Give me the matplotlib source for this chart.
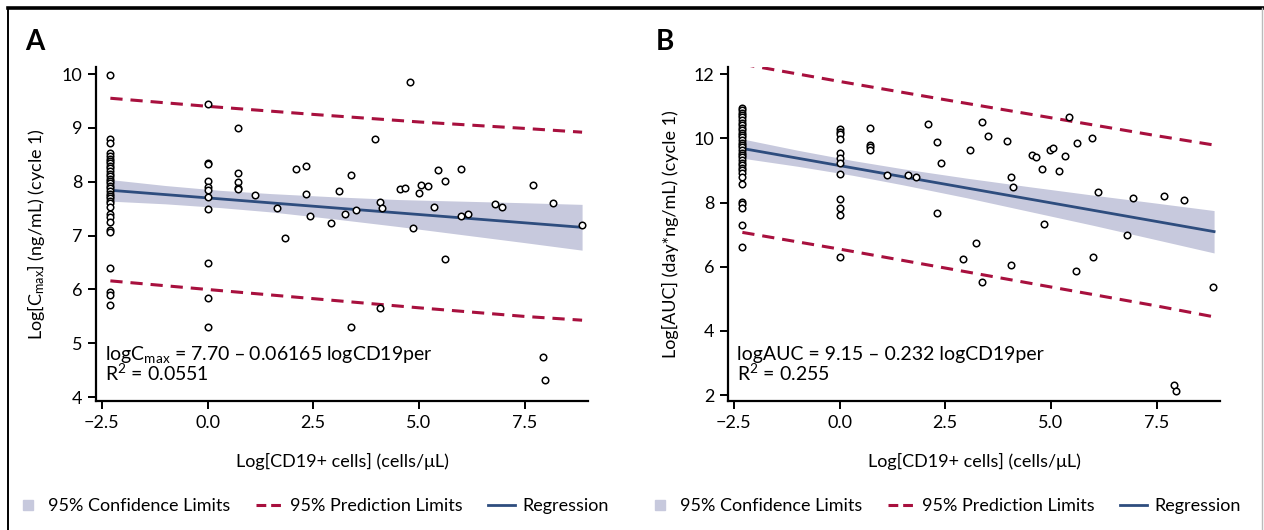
import matplotlib
matplotlib.use('Agg')
import matplotlib.pyplot as plt
from matplotlib.lines import Line2D
import numpy as np

plt.rcParams['font.family'] = ['Lato', 'DejaVu Sans']
plt.rcParams['mathtext.default'] = 'regular'

# ---------------- data ----------------
# Panel A: log Cmax vs log CD19+ cells
cmax_x = ([-2.3] * 34 + [0.0] * 11 + [0.715] * 5 +
          [1.11, 1.64, 1.82, 2.10, 2.32, 2.32, 2.42, 2.91, 3.10, 3.24, 3.39, 3.52,
           3.95, 4.07, 4.12, 4.56, 4.67, 4.80, 4.85, 5.01, 5.05, 5.21, 5.36, 5.45,
           5.62, 5.61, 5.99, 6.00, 6.15, 6.80, 6.97, 7.69, 8.18, 8.86, 4.07, 3.39,
           7.93, 7.99])
cmax_y = ([9.99, 8.80, 8.72, 8.54, 8.48, 8.43, 8.38, 8.34, 8.29, 8.25, 8.20, 8.15,
           8.10, 8.06, 8.01, 7.97, 7.92, 7.88, 7.83, 7.78, 7.74, 7.69, 7.65, 7.60,
           7.53, 7.41, 7.35, 7.25, 7.11, 7.07, 6.39, 5.95, 5.89, 5.72] +
          [9.44, 8.35, 8.33, 8.01, 7.91, 7.84, 7.72, 7.49, 6.50, 5.84, 5.30] +
          [9.00, 8.17, 7.99, 7.89, 7.87] +
          [7.75, 7.52, 6.96, 8.23, 8.29, 7.78, 7.37, 7.24, 7.83, 7.40, 8.12, 7.48,
           8.80, 7.63, 7.51, 7.86, 7.89, 9.85, 7.14, 7.79, 7.94, 7.92, 7.53, 8.22,
           8.02, 6.56, 8.23, 7.36, 7.40, 7.59, 7.53, 7.94, 7.60, 7.19, 5.66, 5.30,
           4.74, 4.32])

# Panel B: log AUC vs log CD19+ cells
auc_x = ([-2.3] * 34 + [0.0] * 12 + [0.715] * 4 +
         [1.11, 1.62, 1.81, 2.08, 2.31, 2.41, 2.31, 3.08, 2.91, 3.22, 3.38, 3.51,
          3.95, 4.06, 4.10, 4.55, 4.65, 4.79, 4.83, 4.98, 5.04, 5.19, 5.34, 5.43,
          5.61, 5.97, 5.99, 6.12, 6.79, 6.95, 7.67, 8.15, 3.37, 4.05, 5.59, 8.83,
          7.91, 7.97])
auc_y = ([10.95, 10.88, 10.80, 10.72, 10.65, 10.57, 10.48, 10.41, 10.33, 10.26,
          10.17, 10.10, 10.03, 9.94, 9.86, 9.79, 9.72, 9.63, 9.55, 9.48, 9.41, 9.32,
          9.24, 9.17, 9.08, 9.01, 8.91, 8.80, 8.59, 8.02, 7.95, 7.82, 7.29, 6.60] +
         [10.28, 10.20, 10.13, 9.97, 9.55, 9.39, 9.22, 8.88, 8.11, 7.83, 7.62, 6.29] +
         [10.32, 9.80, 9.72, 9.63] +
         [8.86, 8.86, 8.80, 10.43, 9.87, 9.23, 7.67, 9.65, 6.24, 6.73, 10.51, 10.07,
          9.92, 8.80, 8.47, 9.47, 9.43, 9.03, 7.33, 9.63, 9.70, 8.97, 9.44, 10.66,
          9.86, 10.00, 6.29, 8.32, 7.00, 8.15, 8.20, 8.07, 5.53, 6.04, 5.87, 5.37,
          2.32, 2.12])

# Regression fits (from the annotations)
reg_a = (7.70, -0.06165)
reg_b = (9.15, -0.232)
fit_x_range = [-2.3, 8.86]

# 95% confidence limits (read at knots)
ci_x = [-2.3, -1.0, 0.3, 1.5, 3.0, 4.5, 6.0, 7.5, 8.86]
ci_a_up = [8.04, 7.93, 7.84, 7.78, 7.72, 7.67, 7.64, 7.61, 7.58]
ci_a_lo = [7.64, 7.59, 7.52, 7.44, 7.31, 7.17, 7.02, 6.87, 6.73]
ci_b_up = [9.98, 9.63, 9.31, 9.05, 8.76, 8.49, 8.23, 7.98, 7.75]
ci_b_lo = [9.38, 9.13, 8.85, 8.55, 8.15, 7.72, 7.29, 6.84, 6.43]

# 95% prediction limits (read at knots)
pi_x = [-2.3, 0.0, 2.5, 5.0, 7.5, 8.86]
pi_a_up = [9.55, 9.40, 9.25, 9.11, 8.99, 8.92]
pi_a_lo = [6.16, 6.00, 5.83, 5.66, 5.50, 5.43]
pi_b_up = [12.31, 11.77, 11.20, 10.64, 10.08, 9.79]
pi_b_lo = [7.07, 6.55, 5.96, 5.37, 4.78, 4.44]

x_ticks = [-2.5, 0.0, 2.5, 5.0, 7.5]
a_yticks = [4, 5, 6, 7, 8, 9, 10]
b_yticks = [2, 4, 6, 8, 10, 12]

# ---------------- style ----------------
C_BAND = '#c7c9dd'
C_PRED = '#a8103e'
C_REG = '#2e4d7e'
FS = 13

W, H = 1264, 530
fig = plt.figure(figsize=(W / 100, H / 100), dpi=100)


def draw_panel(rect, xs, ys, reg, ci_up, ci_lo, pi_up, pi_lo, ylim, yticks,
               ylabel, eq, r2, letter, letter_x):
    ax = fig.add_axes(rect)
    ax.fill_between(ci_x, ci_lo, ci_up, color=C_BAND, lw=0, zorder=1)
    fx = np.array(fit_x_range)
    ax.plot(fx, reg[0] + reg[1] * fx, color=C_REG, lw=2.0, zorder=2)
    for yy in (pi_up, pi_lo):
        ax.plot(pi_x, yy, color=C_PRED, lw=2.2, dashes=(4, 2.6), zorder=2)
    ax.scatter(xs, ys, s=22, facecolors='white', edgecolors='black',
               linewidths=1.1, zorder=3)
    ax.set_xlim(-2.64, 9.0)
    ax.set_ylim(*ylim)
    ax.set_xticks(x_ticks)
    ax.set_xticklabels([f'{v:.1f}'.replace('-', '\u2212') for v in x_ticks])
    ax.set_yticks(yticks)
    for s in ('top', 'right'):
        ax.spines[s].set_visible(False)
    for s in ('left', 'bottom'):
        ax.spines[s].set_linewidth(1.6)
    ax.tick_params(length=6, width=1.4, labelsize=FS, pad=4)
    ax.set_xlabel('Log[CD19+ cells] (cells/\u03bcL)', fontsize=FS, labelpad=16)
    ax.set_ylabel(ylabel, fontsize=FS, labelpad=10)
    ax.text(0.018, 0.123, eq, transform=ax.transAxes, fontsize=14, va='baseline',
            zorder=4)
    ax.text(0.018, 0.060, r2, transform=ax.transAxes, fontsize=14, va='baseline',
            zorder=4)
    fig.text(letter_x / W, 1 - 50 / H, letter, fontsize=20, fontweight='bold',
             va='baseline', ha='left')
    return ax


axA = draw_panel([96 / W, 1 - 401 / H, 492 / W, 334 / H], cmax_x, cmax_y, reg_a,
                 ci_a_up, ci_a_lo, pi_a_up, pi_a_lo, (3.93, 10.13), a_yticks,
                 'Log[C$_{max}$] (ng/mL) (cycle 1)',
                 'logC$_{max}$ = 7.70 \u2013 0.06165 logCD19per',
                 'R$^2$ = 0.0551', 'A', 25)
axB = draw_panel([728 / W, 1 - 401 / H, 492 / W, 334 / H], auc_x, auc_y, reg_b,
                 ci_b_up, ci_b_lo, pi_b_up, pi_b_lo, (1.82, 12.22), b_yticks,
                 'Log[AUC] (day*ng/mL) (cycle 1)',
                 'logAUC = 9.15 \u2013 0.232 logCD19per',
                 'R$^2$ = 0.255', 'B', 656)

# legends
handles = [Line2D([], [], marker='s', ls='none', markersize=7, color=C_BAND),
           Line2D([], [], color=C_PRED, lw=2.2, dashes=(3.2, 1.6)),
           Line2D([], [], color=C_REG, lw=2.0)]
labels = ['95% Confidence Limits', '95% Prediction Limits', 'Regression']
for x0 in (14, 646):
    fig.legend(handles, labels, loc='center left', bbox_to_anchor=(x0 / W, 1 - 506 / H),
               ncol=3, frameon=False, fontsize=FS, handlelength=1.5,
               handletextpad=0.4, columnspacing=1.4, borderpad=0, borderaxespad=0)

# figure frame
fig.add_artist(Line2D([8 / W, 1], [1 - 7.5 / H, 1 - 7.5 / H], color='black', lw=2.6,
                      transform=fig.transFigure))
fig.add_artist(Line2D([8 / W, 8 / W], [0, 1 - 7.5 / H], color='black', lw=1.4,
                      transform=fig.transFigure))
fig.add_artist(Line2D([1262 / W, 1262 / W], [0, 1 - 7.5 / H], color='#bbbbbb', lw=1.0,
                      transform=fig.transFigure))

fig.savefig('out.png', dpi=100)
